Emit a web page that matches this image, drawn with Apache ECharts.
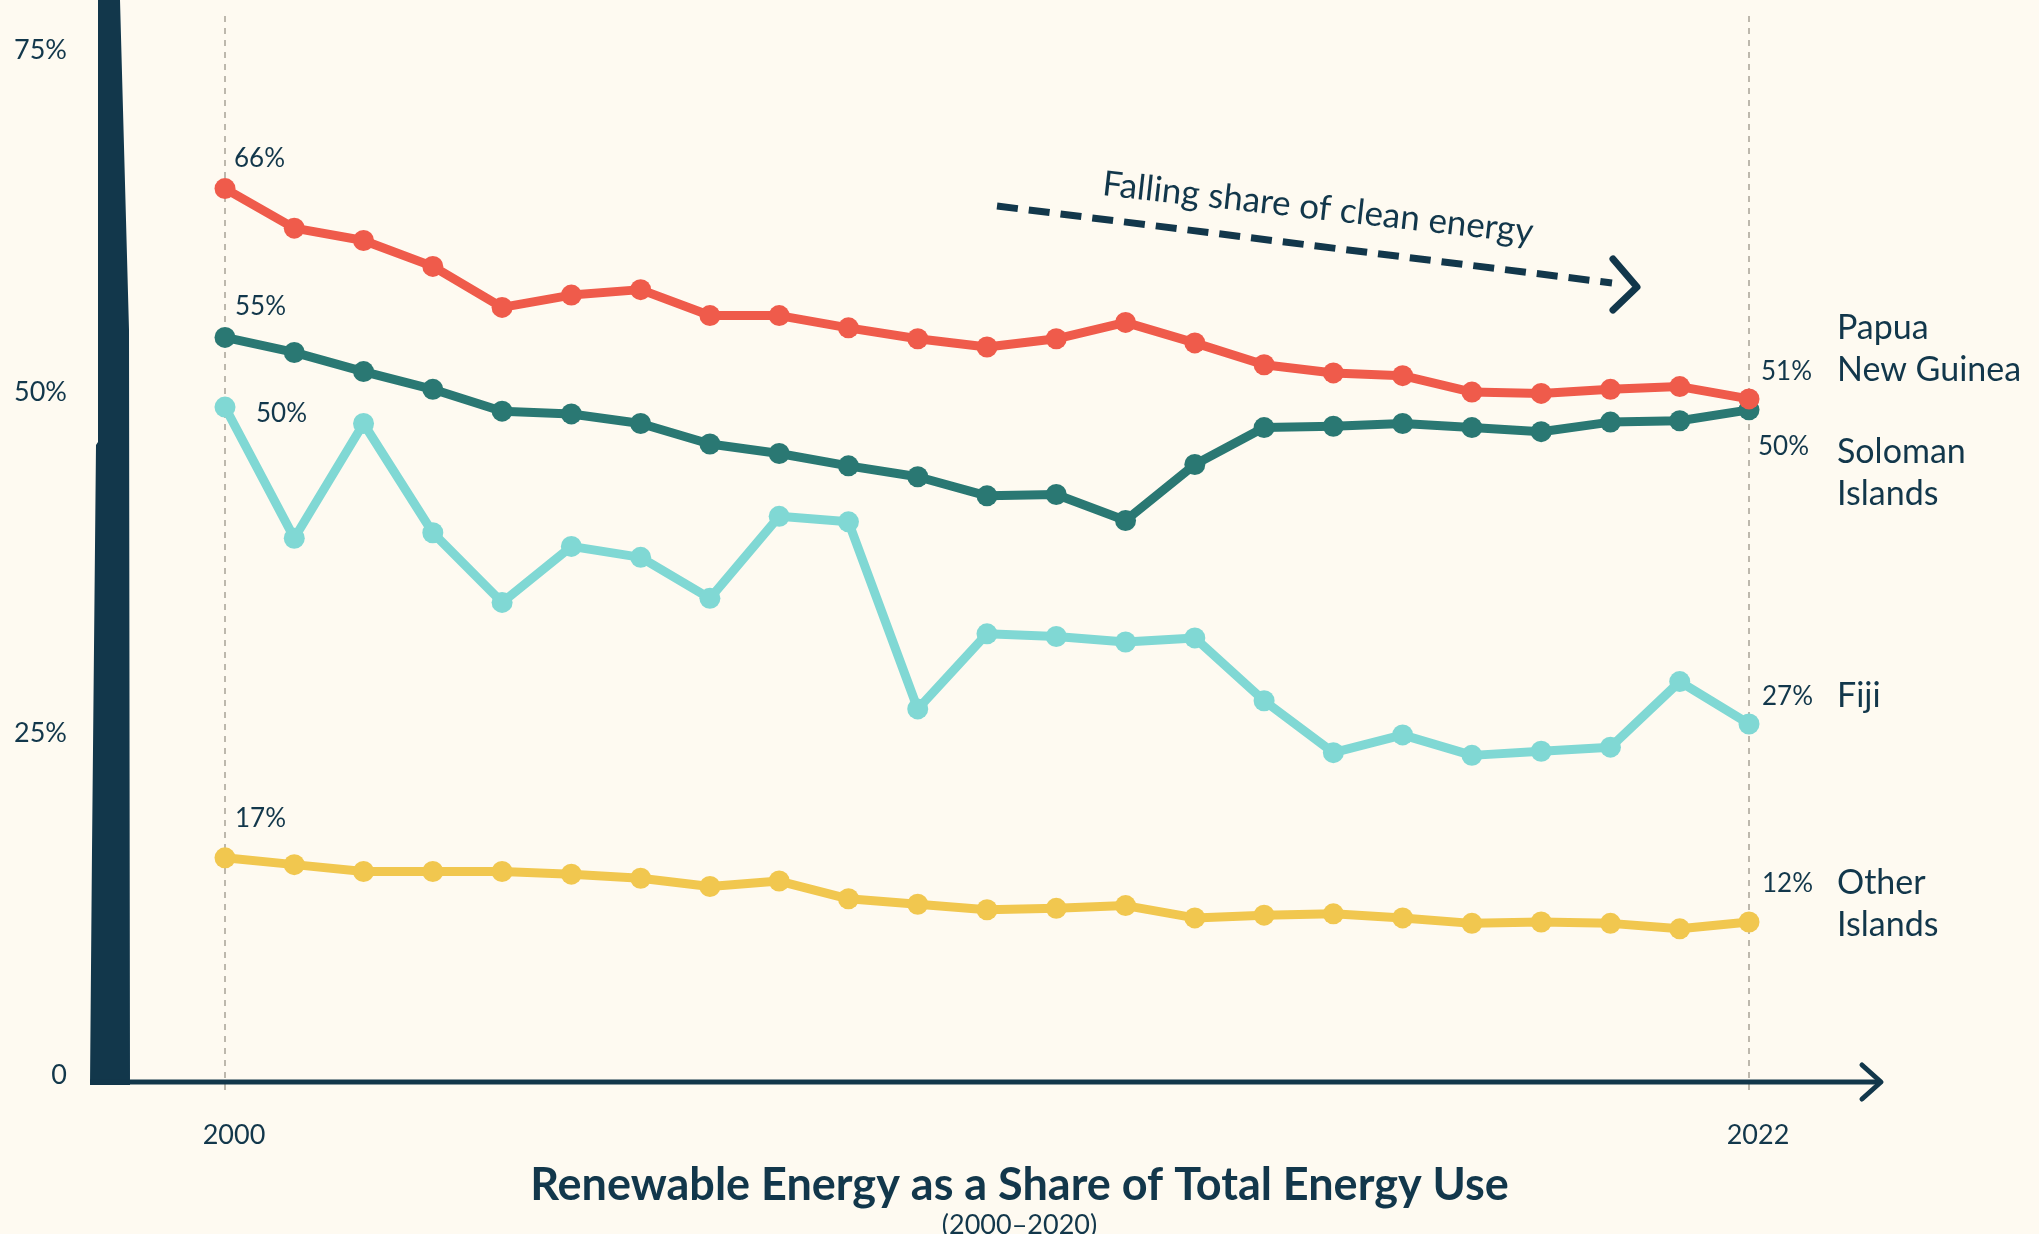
<!DOCTYPE html>
<html>
<head>
<meta charset="utf-8">
<title>Renewable Energy as a Share of Total Energy Use</title>
<script src="https://cdn.jsdelivr.net/npm/echarts@6/dist/echarts.min.js"></script>
<style>
    html, body { margin: 0; padding: 0; background: #fefaf1; }
    #chart { width: 2039px; height: 1234px; }
</style>
</head>
<body>
<div id="chart"></div>
<script>
// renewable share of total energy use, percent
const years = ['2000', '2001', '2002', '2003', '2004', '2005', '2006', '2007', '2008', '2009', '2010', '2011',
    '2012', '2013', '2014', '2015', '2016', '2017', '2018', '2019', '2020', '2021', '2022']
const papua = [66.0, 63.1, 62.2, 60.3, 57.3, 58.2, 58.6, 56.7, 56.7, 55.8, 55.0, 54.4,
    55.0, 56.2, 54.7, 53.1, 52.5, 52.3, 51.1, 51.0, 51.3, 51.5, 50.6]
const solomon = [55.1, 54.0, 52.6, 51.3, 49.7, 49.5, 48.8, 47.3, 46.6, 45.7, 44.9, 43.5,
    43.6, 41.7, 45.8, 48.5, 48.6, 48.8, 48.5, 48.2, 48.9, 49.0, 49.8]
const fiji = [50.0, 40.4, 48.8, 40.8, 35.7, 39.8, 39.0, 36.0, 42.0, 41.6, 27.9, 33.4,
    33.2, 32.8, 33.1, 28.5, 24.7, 26.0, 24.5, 24.8, 25.1, 29.9, 26.8]
const otherIslands = [17.0, 16.5, 16.0, 16.0, 16.0, 15.8, 15.5, 14.9, 15.3, 14.0, 13.6, 13.2,
    13.3, 13.5, 12.6, 12.8, 12.9, 12.6, 12.2, 12.3, 12.2, 11.8, 12.3]
const yTickValues = [0, 25, 50, 75]
const yTickLabels = ['0', '25%', '50%', '75%']

const navy = '#12374b'
const font = 'Lato'

const chart = echarts.init(document.getElementById('chart'))

// label only the first and last point of each line
function withEnds(values, first, last) {
    return values.map((v, i) => {
        if (i === 0) return { value: v, label: { show: true, offset: first } }
        if (i === values.length - 1) return { value: v, label: { show: true, offset: last } }
        return v
    })
}

function lineSeries(name, color, values, first, last, nameOffset) {
    return {
        name: name.replace('\n', ' '),
        type: 'line',
        data: withEnds(values, first, last),
        symbol: 'circle',
        symbolSize: 21,
        lineStyle: { width: 9, color: color, join: 'round' },
        itemStyle: { color: color },
        emphasis: { disabled: true },
        label: {
            show: false,
            position: 'inside',
            align: 'left',
            verticalAlign: 'middle',
            color: navy,
            fontSize: 26,
            fontFamily: font,
            textBorderWidth: 0,
            formatter: p => Math.round(p.value) + '%'
        },
        markPoint: {
            silent: true,
            symbol: 'circle',
            symbolSize: 1,
            itemStyle: { color: 'transparent' },
            label: {
                show: true,
                position: 'inside',
                align: 'left',
                verticalAlign: 'middle',
                offset: nameOffset,
                color: navy,
                fontSize: 34,
                lineHeight: 42,
                fontFamily: font,
                formatter: name
            },
            data: [{ coord: [years[years.length - 1], values[values.length - 1]] }]
        }
    }
}

const series = [
    lineSeries('Other\nIslands', '#f1c74f', otherIslands, [10, -39], [13, -38], [88, -18]),
    lineSeries('Fiji', '#80d8d4', fiji, [31, 7], [13, -27], [88, -28]),
    lineSeries('Soloman\nIslands', '#2a7873', solomon, [10, -31], [9, 37], [88, 63]),
    lineSeries('Papua\nNew Guinea', '#ef5b4b', papua, [9, -30], [12, -27], [88, -50])
]
series[0].markLine = {
    silent: true,
    z: 1,
    symbol: ['none', 'none'],
    label: { show: false },
    lineStyle: { color: '#bdb8ad', width: 2, type: [6, 6] },
    data: [{ xAxis: years[0] }, { xAxis: years[years.length - 1] }]
}

const option = {
    backgroundColor: '#fefaf1',
    animation: false,
    title: {
        text: 'Renewable Energy as a Share of Total Energy Use',
        subtext: '(2000–2020)',
        left: 'center',
        top: 1155,
        itemGap: 1,
        textStyle: { color: navy, fontSize: 45, fontWeight: 'bold', fontFamily: font, lineHeight: 50 },
        subtextStyle: { color: navy, fontSize: 27, fontFamily: font, lineHeight: 28 }
    },
    grid: { left: 225, right: 290, top: 11, bottom: 144, containLabel: false },
    xAxis: {
        type: 'category',
        boundaryGap: false,
        data: years,
        axisLine: { show: false },
        axisTick: { show: false },
        splitLine: { show: false },
        axisLabel: {
            interval: (i) => i === 0 || i === years.length - 1,
            margin: 32,
            color: navy,
            fontSize: 27,
            fontFamily: font,
            padding: [0, 0, 0, 18]
        }
    },
    yAxis: {
        type: 'value',
        min: 0,
        max: 79,
        interval: 25,
        axisLine: { show: false },
        axisTick: { show: false },
        splitLine: { show: false },
        axisLabel: {
            margin: 158,
            color: navy,
            fontSize: 27,
            fontFamily: font,
            verticalAlign: 'bottom',
            lineHeight: 30,
            formatter: v => {
                const i = yTickValues.indexOf(v)
                return i < 0 ? '' : yTickLabels[i]
            }
        }
    },
    graphic: [
        // hand drawn y axis bar
        {
            type: 'polygon',
            z: 10,
            shape: { points: [[98, 0], [120, 0], [129, 330], [130, 1085], [90, 1085], [92, 850], [96, 445], [98, 442]] },
            style: { fill: navy }
        },
        {
            type: 'line',
            z: 10,
            shape: { x1: 90, y1: 1082, x2: 1880, y2: 1082 },
            style: { stroke: navy, lineWidth: 5 }
        },
        {
            type: 'polyline',
            z: 10,
            shape: { points: [[1862, 1065], [1881, 1082], [1862, 1099]] },
            style: { stroke: navy, lineWidth: 5, fill: null, lineCap: 'round', lineJoin: 'round' }
        },
        // annotation arrow
        {
            type: 'line',
            z: 10,
            shape: { x1: 997, y1: 206, x2: 1612, y2: 283 },
            style: { stroke: navy, lineWidth: 7, lineDash: [21, 11] }
        },
        {
            type: 'polyline',
            z: 10,
            shape: { points: [[1613, 259], [1637, 287], [1613, 310]] },
            style: { stroke: navy, lineWidth: 7, fill: null, lineCap: 'round', lineJoin: 'round' }
        },
        {
            type: 'text',
            z: 10,
            x: 1318,
            y: 208,
            rotation: -0.112,
            style: {
                text: 'Falling share of clean energy',
                font: '35px Lato',
                fill: navy,
                align: 'center',
                verticalAlign: 'middle'
            }
        }
    ],
    series: series
}

chart.setOption(option)
</script>
</body>
</html>
